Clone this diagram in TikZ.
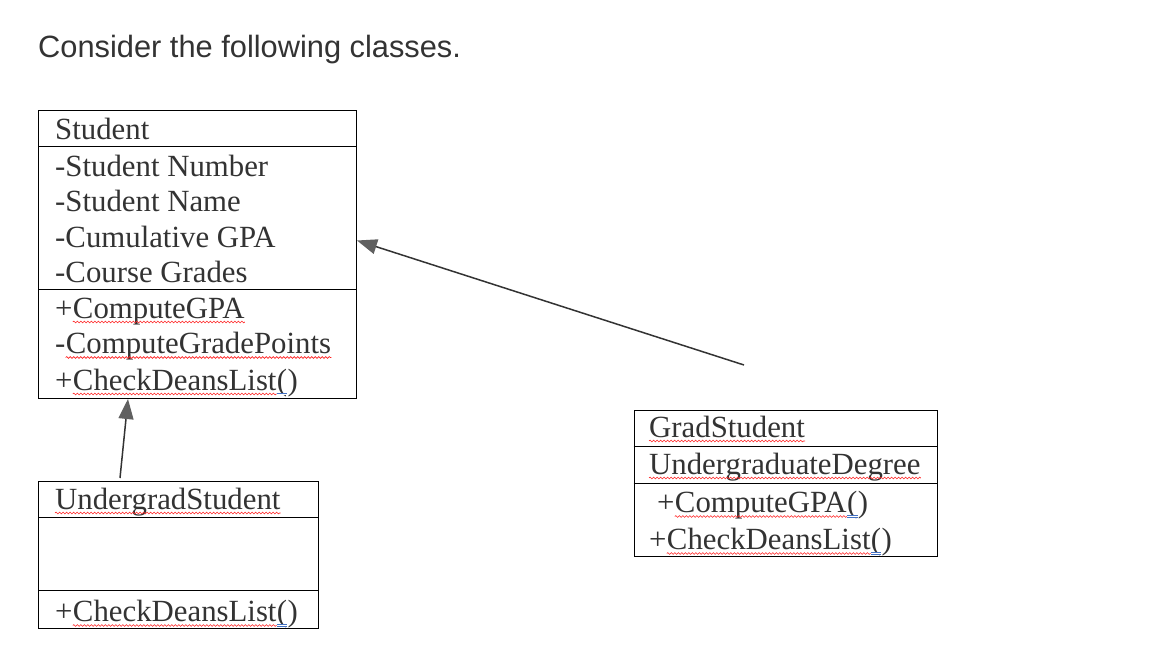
\documentclass[tikz,border=0pt]{standalone}
\usepackage{fontspec}
\setmainfont{Liberation Serif}
\newfontfamily\titlefont{Liberation Sans}
\usetikzlibrary{arrows.meta,decorations.pathmorphing}
\definecolor{textc}{HTML}{333333}
\definecolor{tipc}{HTML}{606060}
\definecolor{spellred}{HTML}{FF2020}
\definecolor{gramblue}{HTML}{4472C4}
\tikzset{
  txt/.style={inner sep=0pt, anchor=base west, text=textc, font=\fontsize{30.8}{36}\selectfont},
  nxt/.style={inner sep=0pt, anchor=base west, text=textc, font=\fontsize{30.8}{36}\selectfont},
  classbox/.style={draw=black, line width=1.2pt, anchor=north west, inner sep=0pt},
  divider/.style={draw=black, line width=1.2pt},
  wavy/.style={draw=spellred, line width=0.6pt, decorate, decoration={snake, amplitude=0.9pt, segment length=3.5pt}},
  blueul/.style={draw=gramblue, line width=0.7pt, double distance=1pt},
  inherit/.style={draw=textc, line width=1.5pt, -{Triangle[length=20pt,width=15pt,color=tipc]}}
}
\begin{document}
\begin{tikzpicture}[x=1pt,y=-1pt]
\useasboundingbox (0,0) rectangle (1154,661);
% title
\node[inner sep=0pt, anchor=base west, text=textc, font=\titlefont\fontsize{30.8}{36}\selectfont] (title) at (38,57.5) {Consider the following classes.};

% ---------------- Student
\node[classbox, minimum width=318pt, minimum height=288pt] (student) at (38,109.5) {};
\draw[divider] (38,146.5) -- (356,146.5);
\draw[divider] (38,289.5) -- (356,289.5);
\node[txt] (sname) at (55,139.5) {Student};
\node[txt] (sa1) at (55,176) {-Student Number};
\node[txt] (sa2) at (55,211.5) {-Student Name};
\node[txt] (sa3) at (55,247) {-Cumulative GPA};
\node[txt] (sa4) at (55,282) {-Course Grades};
\node[txt] (sm1a) at (55,318) {+};
\node[nxt] (sm1b) at (sm1a.base east) {ComputeGPA};
\draw[wavy] ([yshift=-4pt]sm1b.base west) -- ([yshift=-4pt]sm1b.base east);
\node[txt] (sm2a) at (55,353.5) {-};
\node[nxt] (sm2b) at (sm2a.base east) {ComputeGradePoints};
\draw[wavy] ([yshift=-4pt]sm2b.base west) -- ([yshift=-4pt]sm2b.base east);
\node[txt] (sm3a) at (55,390) {+};
\node[nxt] (sm3b) at (sm3a.base east) {CheckDeansList};
\node[nxt] (sm3c) at (sm3b.base east) {(};
\node[nxt] (sm3d) at (sm3c.base east) {)};
\draw[wavy] ([yshift=-4pt]sm3b.base west) -- ([yshift=-4pt]sm3b.base east);
\draw[blueul] ([yshift=-4pt]sm3c.base west) -- ([yshift=-4pt]sm3c.base east);

% ---------------- UndergradStudent
\node[classbox, minimum width=280pt, minimum height=146.5pt] (ugrad) at (38,481) {};
\draw[divider] (38,517.5) -- (318,517.5);
\draw[divider] (38,590.5) -- (318,590.5);
\node[txt] (uname) at (55,509) {UndergradStudent};
\draw[wavy] ([yshift=-4pt]uname.base west) -- ([yshift=-4pt]uname.base east);
\node[txt] (um1a) at (55,621.5) {+};
\node[nxt] (um1b) at (um1a.base east) {CheckDeansList};
\node[nxt] (um1c) at (um1b.base east) {(};
\node[nxt] (um1d) at (um1c.base east) {)};
\draw[wavy] ([yshift=-4pt]um1b.base west) -- ([yshift=-4pt]um1b.base east);
\draw[blueul] ([yshift=-4pt]um1c.base west) -- ([yshift=-4pt]um1c.base east);

% ---------------- GradStudent
\node[classbox, minimum width=303pt, minimum height=146pt] (grad) at (633.5,409.5) {};
\draw[divider] (633.5,446.5) -- (936.5,446.5);
\draw[divider] (633.5,483.5) -- (936.5,483.5);
\node[txt] (gname) at (649,437) {GradStudent};
\draw[wavy] ([yshift=-4pt]gname.base west) -- ([yshift=-4pt]gname.base east);
\node[txt] (ga1) at (649,474) {UndergraduateDegree};
\draw[wavy] ([yshift=-4pt]ga1.base west) -- ([yshift=-4pt]ga1.base east);
\node[txt] (gm1a) at (657,512.5) {+};
\node[nxt] (gm1b) at (gm1a.base east) {ComputeGPA};
\node[nxt] (gm1c) at (gm1b.base east) {(};
\node[nxt] (gm1d) at (gm1c.base east) {)};
\draw[wavy] ([yshift=-4pt]gm1b.base west) -- ([yshift=-4pt]gm1b.base east);
\draw[blueul] ([yshift=-4pt]gm1c.base west) -- ([yshift=-4pt]gm1c.base east);
\node[txt] (gm2a) at (649,549.5) {+};
\node[nxt] (gm2b) at (gm2a.base east) {CheckDeansList};
\node[nxt] (gm2c) at (gm2b.base east) {(};
\node[nxt] (gm2d) at (gm2c.base east) {)};
\draw[wavy] ([yshift=-4pt]gm2b.base west) -- ([yshift=-4pt]gm2b.base east);
\draw[blueul] ([yshift=-4pt]gm2c.base west) -- ([yshift=-4pt]gm2c.base east);

% ---------------- inheritance arrows
\coordinate (gtail) at (744,365);
\coordinate (stip1) at (357,240.5);
\draw[inherit] (gtail) -- (stip1);
\coordinate (utail) at (120,478);
\coordinate (stip2) at (128,399);
\draw[inherit] (utail) -- (stip2);
\end{tikzpicture}
\end{document}
